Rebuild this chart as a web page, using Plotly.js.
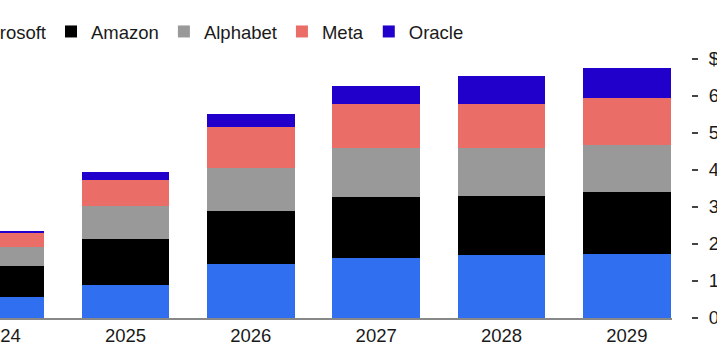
<!DOCTYPE html>
<html>
<head>
<meta charset="utf-8">
<script src="https://cdn.plot.ly/plotly-3.0.1.min.js"></script>
<style>
html,body{margin:0;padding:0;background:#fff;}
#chart{width:717px;height:355px;}
</style>
</head>
<body>
<div id="chart"></div>
<script>
var years = [2024, 2025, 2026, 2027, 2028, 2029];
var yearLabels = ["2024", "2025", "2026", "2027", "2028", "2029"];
var microsoft = [56, 88, 146, 162, 170, 174];
var amazon = [83, 124, 142, 164, 158, 165];
var alphabet = [52, 90, 117, 132, 130, 127];
var meta = [39, 69, 110, 120, 120, 127];
var oracle = [6, 22, 36, 49, 74, 81];
var yTickVals = [0, 100, 200, 300, 400, 500, 600, 700];
var yTickText = ["0", "100", "200", "300", "400", "500", "600", "$700B"];

var FONT = "Liberation Sans, Arial, Helvetica, sans-serif";
function bar(name, vals, color) {
  return {type: "bar", name: name, x: years, y: vals,
          marker: {color: color, line: {width: 0}}, hoverinfo: "skip"};
}
var data = [
  bar("Microsoft", microsoft, "#2f6ff0"),
  bar("Amazon", amazon, "#000000"),
  bar("Alphabet", alphabet, "#999999"),
  bar("Meta", meta, "#eb6d67"),
  bar("Oracle", oracle, "#2200cc")
];
var layout = {
  width: 717, height: 355,
  margin: {l: 0, r: 26, t: 40, b: 37, autoexpand: false},
  paper_bgcolor: "#ffffff", plot_bgcolor: "#ffffff",
  barmode: "stack", bargap: 0.3,
  font: {family: FONT, size: 18.5, color: "#1a1a1a"},
  showlegend: true,
  legend: {orientation: "h", x: -0.0999, xanchor: "left", y: 1.029, yanchor: "middle",
           font: {family: FONT, size: 18.5, color: "#1a1a1a"}, traceorder: "normal",
           bgcolor: "rgba(0,0,0,0)"},
  xaxis: {domain: [0, 0.9725], range: [2023.999, 2029.36], tickvals: years, ticktext: yearLabels,
          showgrid: false, zeroline: false, showline: true, linecolor: "#888888", linewidth: 1.5,
          ticks: "", ticklabeloverflow: "allow",
          tickfont: {family: FONT, size: 18.5, color: "#1a1a1a"}, fixedrange: true},
  yaxis: {range: [0, 750], anchor: "free", position: 1, side: "right",
          tickvals: yTickVals, ticktext: yTickText, showgrid: false, zeroline: false, showline: false,
          ticks: "outside", ticklen: 6, tickwidth: 2, tickcolor: "#444444", ticklabelstandoff: 7,
          ticklabeloverflow: "allow",
          tickfont: {family: FONT, size: 18.5, color: "#1a1a1a"}, fixedrange: true}
};
Plotly.newPlot("chart", data, layout, {displayModeBar: false, staticPlot: true});
</script>
</body>
</html>
